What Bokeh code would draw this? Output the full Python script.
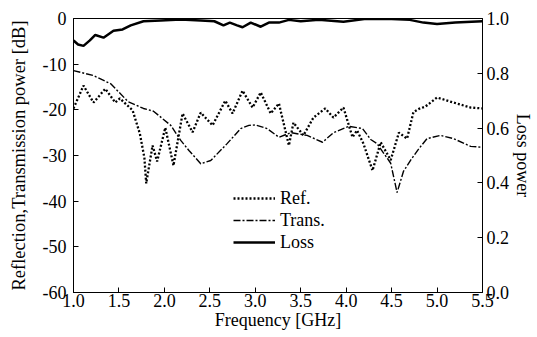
from bokeh.plotting import figure
from bokeh.models import Range1d, LinearAxis, Legend, LegendItem
from bokeh.embed import file_html
from bokeh.resources import INLINE

# Reflection (dB)
ref_freq = [1.0, 1.11, 1.22, 1.35, 1.46, 1.51, 1.65, 1.73, 1.78, 1.80, 1.87, 1.92, 2.01, 2.10, 2.20,
            2.31, 2.40, 2.53, 2.67, 2.75, 2.86, 2.97, 3.06, 3.17, 3.26, 3.37, 3.42, 3.53, 3.64,
            3.77, 3.86, 3.97, 4.07, 4.12, 4.19, 4.29, 4.38, 4.49, 4.58, 4.67, 4.74, 4.80, 4.87,
            5.00, 5.18, 5.37, 5.50]
ref_db = [-19.7, -14.7, -18.4, -15.4, -18.4, -17.5, -20.1, -25.2, -30.5, -36.1, -27.8, -31.3, -23.9,
          -32.2, -20.8, -24.9, -20.6, -23.4, -18.0, -20.8, -15.8, -19.5, -16.2, -20.8, -18.6,
          -27.8, -22.8, -25.6, -21.7, -19.7, -21.7, -19.5, -26.0, -24.5, -27.4, -33.3, -27.1,
          -31.0, -25.0, -26.3, -20.5, -19.8, -19.3, -17.3, -18.4, -19.5, -19.7]

# Transmission (dB)
trans_freq = [1.0, 1.22, 1.41, 1.60, 1.77, 1.88, 2.07, 2.18, 2.27, 2.40, 2.51, 2.69, 2.84, 2.93,
              3.00, 3.13, 3.26, 3.39, 3.57, 3.74, 3.86, 4.03, 4.18, 4.27, 4.34, 4.49,
              4.56, 4.63, 4.71, 4.80, 4.89, 5.04, 5.18, 5.37, 5.50]
trans_db = [-11.4, -12.5, -14.3, -18.2, -19.7, -20.3, -23.4, -26.7, -28.9, -31.8, -31.1, -27.4,
            -24.1, -23.4, -23.3, -24.1, -26.0, -25.0, -25.6, -27.1, -25.0, -23.6, -24.1,
            -26.5, -27.4, -31.7, -38.1, -33.5, -31.0, -28.5, -26.3, -25.6, -26.3, -28.0, -28.2]

# Loss power (linear, right axis)
loss_freq = [1.0, 1.05, 1.11, 1.18, 1.24, 1.33, 1.44, 1.54, 1.63, 1.77, 1.96, 2.18, 2.40, 2.55,
             2.65, 2.72, 2.80, 2.86, 2.95, 3.06, 3.15, 3.26, 3.37, 3.50, 3.70, 3.97, 4.20,
             4.50, 4.70, 4.85, 5.00, 5.20, 5.50]
loss_val = [0.92, 0.905, 0.90, 0.92, 0.94, 0.93, 0.955, 0.96, 0.975, 0.99, 0.993, 0.996, 0.993,
            0.99, 0.975, 0.985, 0.975, 0.968, 0.985, 0.97, 0.985, 0.985, 0.995, 0.99, 0.995,
            0.988, 0.998, 0.998, 0.995, 0.985, 0.98, 0.985, 0.99]

x_ticks = [1.0, 1.5, 2.0, 2.5, 3.0, 3.5, 4.0, 4.5, 5.0, 5.5]
y_ticks = [-60, -50, -40, -30, -20, -10, 0]
r_ticks = [0.0, 0.2, 0.4, 0.6, 0.8, 1.0]

FONT = "Liberation Serif"
FS = "18px"

p = figure(width=537, height=337, output_backend="svg", toolbar_location=None,
           x_range=Range1d(1.0, 5.5), y_range=Range1d(-60, 0),
           min_border_left=73, min_border_right=55, min_border_top=18, min_border_bottom=45)
p.extra_y_ranges = {"right": Range1d(0, 1)}
p.xgrid.visible = False
p.ygrid.visible = False
p.outline_line_color = "black"
p.outline_line_width = 1
p.background_fill_color = "white"
p.border_fill_color = "white"

p.add_layout(LinearAxis(y_range_name="right"), "right")

for ax in p.axis:
    ax.axis_line_color = "black"
    ax.major_tick_line_color = "black"
    ax.minor_tick_line_color = "black"
    ax.major_tick_in = 5
    ax.major_tick_out = 0
    ax.minor_tick_in = 3
    ax.minor_tick_out = 0
    ax.major_label_text_font = FONT
    ax.major_label_text_font_size = FS
    ax.major_label_text_color = "black"
    ax.axis_label_text_font = FONT
    ax.axis_label_text_font_size = FS
    ax.axis_label_text_font_style = "normal"
    ax.axis_label_text_color = "black"

p.xaxis.ticker = x_ticks
p.xaxis.ticker.num_minor_ticks = 5
p.xaxis.major_label_overrides = {v: f"{v:.1f}" for v in x_ticks}
p.xaxis.axis_label = "Frequency [GHz]"
p.xaxis.major_label_standoff = 1
p.xaxis.axis_label_standoff = 0

left = p.yaxis[0]
left.ticker = y_ticks
left.ticker.num_minor_ticks = 2
left.major_label_overrides = {v: str(v) for v in y_ticks}
left.axis_label = "Reflection,Transmission power [dB]"
left.axis_label_text_font_size = "18.5px"
left.major_label_standoff = 7
left.axis_label_standoff = 11

right = p.yaxis[1]
right.ticker = r_ticks
right.ticker.num_minor_ticks = 4
right.major_label_overrides = {v: f"{v:.1f}" for v in r_ticks}
right.axis_label = "Loss power"
right.major_label_standoff = 4
right.axis_label_standoff = 1

r_ref = p.line(ref_freq, ref_db, line_color="black", line_width=2.3, line_dash="2 2")
r_trans = p.line(trans_freq, trans_db, line_color="black", line_width=1.4, line_dash="7 2 2 2")
r_loss = p.line(loss_freq, loss_val, line_color="black", line_width=2.5, y_range_name="right")

legend = Legend(items=[LegendItem(label="Ref.", renderers=[r_ref]),
                       LegendItem(label="Trans.", renderers=[r_trans]),
                       LegendItem(label="Loss", renderers=[r_loss])],
                location=(160, 39), orientation="vertical",
                glyph_width=42, glyph_height=22, spacing=0, padding=0, margin=0,
                label_standoff=5, label_text_font=FONT, label_text_font_size=FS,
                label_text_color="black", border_line_alpha=0, background_fill_alpha=0)
p.add_layout(legend, "center")

open("out.html", "w").write(file_html(p, INLINE))
